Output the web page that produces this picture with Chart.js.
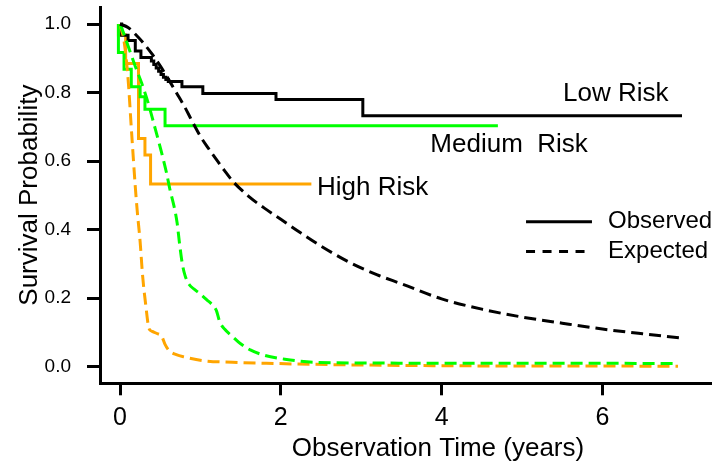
<!DOCTYPE html>
<html>
<head>
<meta charset="utf-8">
<script src="https://cdn.jsdelivr.net/npm/chart.js@4.4.1/dist/chart.umd.min.js"></script>
<style>
  html, body { margin: 0; padding: 0; background: #fff; overflow: hidden; width: 712px; height: 467px; }
  canvas { display: block; }
</style>
</head>
<body>
<canvas id="c" width="800" height="467"></canvas>
<script>
// ---- Data ----
const xTickValues = [0, 2, 4, 6];
const yTickValues = [0, 0.2, 0.4, 0.6, 0.8, 1.0];

// Observed Kaplan-Meier curves (time in years, survival probability)
const lowObsT  = [0, 0.02, 0.10, 0.19, 0.26, 0.39, 0.42, 0.45, 0.48, 0.51, 0.54, 0.57, 0.60, 0.77, 1.03, 1.94, 3.02, 6.99];
const lowObsS  = [1.0, 0.967, 0.952, 0.921, 0.902, 0.892, 0.882, 0.872, 0.862, 0.853, 0.845, 0.838, 0.832, 0.817, 0.797, 0.780, 0.732, 0.732];
const medObsT  = [-0.02, -0.02, 0.05, 0.14, 0.25, 0.31, 0.56, 4.70];
const medObsS  = [1.0, 0.917, 0.868, 0.817, 0.788, 0.751, 0.703, 0.703];
const highObsT = [-0.02, -0.02, 0.07, 0.23, 0.31, 0.38, 2.38];
const highObsS = [1.0, 0.968, 0.885, 0.666, 0.618, 0.533, 0.533];

// Expected survival curves
const lowExpT  = [0, 0.1, 0.2, 0.3, 0.4, 0.5, 0.6, 0.7, 0.8, 0.9, 1.0, 1.1, 1.2, 1.3, 1.4, 1.6, 1.8, 2.0, 2.25, 2.5, 2.85, 3.2, 3.5, 4.0, 4.5, 5.0, 5.5, 6.0, 6.5, 6.97];
const lowExpS  = [1.0, 0.99, 0.968, 0.942, 0.912, 0.878, 0.84, 0.80, 0.76, 0.715, 0.672, 0.637, 0.604, 0.572, 0.542, 0.497, 0.462, 0.43, 0.39, 0.352, 0.305, 0.268, 0.242, 0.198, 0.168, 0.145, 0.127, 0.110, 0.096, 0.084];
const medExpT  = [0, 0.05, 0.12, 0.2, 0.27, 0.35, 0.42, 0.5, 0.58, 0.62, 0.67, 0.71, 0.74, 0.775, 0.81, 0.86, 0.93, 1.0, 1.08, 1.15, 1.2, 1.24, 1.3, 1.4, 1.5, 1.62, 1.8, 2.05, 2.4, 3.0, 4.0, 5.0, 6.0, 6.94];
const medExpS  = [1.0, 0.97, 0.923, 0.87, 0.827, 0.77, 0.71, 0.64, 0.564, 0.518, 0.47, 0.42, 0.36, 0.30, 0.265, 0.24, 0.225, 0.212, 0.195, 0.18, 0.163, 0.131, 0.11, 0.088, 0.067, 0.049, 0.033, 0.022, 0.013, 0.011, 0.010, 0.010, 0.010, 0.009];
const highExpT = [0, 0.05, 0.10, 0.145, 0.19, 0.215, 0.25, 0.28, 0.32, 0.36, 0.40, 0.46, 0.52, 0.56, 0.61, 0.7, 0.81, 1.06, 1.4, 1.82, 2.4, 3.0, 4.0, 5.0, 6.0, 6.94];
const highExpS = [1.0, 0.95, 0.84, 0.68, 0.525, 0.452, 0.365, 0.268, 0.18, 0.112, 0.103, 0.097, 0.088, 0.065, 0.047, 0.035, 0.028, 0.017, 0.013, 0.010, 0.007, 0.005, 0.003, 0.002, 0.002, 0.001];

const groupLabels = ['Low Risk', 'Medium  Risk', 'High Risk'];
const legendLabels = ['Observed', 'Expected'];
const xTitle = 'Observation Time (years)';
const yTitle = 'Survival Probability';

// ---- Styles ----
const BLACK = '#000000', GREEN = '#00FF00', ORANGE = '#FFA500';
const FONT = '"Liberation Sans", Arial, Helvetica, sans-serif';
const DASH = [12, 6];

function pts(t, s) { return t.map((x, i) => ({ x: x, y: s[i] })); }

const datasets = [
  { label: 'Low Expected',  data: pts(lowExpT, lowExpS),   borderColor: BLACK,  borderDash: DASH, cubicInterpolationMode: 'monotone' },
  { label: 'Med Expected',  data: pts(medExpT, medExpS),   borderColor: GREEN,  borderDash: DASH, cubicInterpolationMode: 'monotone' },
  { label: 'High Expected', data: pts(highExpT, highExpS), borderColor: ORANGE, borderDash: DASH, cubicInterpolationMode: 'monotone' },
  { label: 'Low Observed',  data: pts(lowObsT, lowObsS),   borderColor: BLACK,  stepped: true },
  { label: 'Med Observed',  data: pts(medObsT, medObsS),   borderColor: GREEN,  stepped: true },
  { label: 'High Observed', data: pts(highObsT, highObsS), borderColor: ORANGE, stepped: true }
].map(d => Object.assign({ borderWidth: 3, pointRadius: 0, fill: false, borderCapStyle: 'butt' }, d));

// Annotation anchors in data units
const groupLabelPos = [ { x: 5.51, y: 0.776 }, { x: 3.86, y: 0.627 }, { x: 2.45, y: 0.501 } ];
const legendPos = { x0: 5.05, x1: 5.87, xText: 6.07, y: [0.423, 0.336] };

const overlay = {
  id: 'overlay',
  afterDatasetsDraw(chart) {
    const ctx = chart.ctx, xs = chart.scales.x, ys = chart.scales.y;
    ctx.save();
    ctx.fillStyle = '#000';
    ctx.font = '26px ' + FONT;
    ctx.textAlign = 'left';
    ctx.textBaseline = 'alphabetic';
    groupLabels.forEach((txt, i) => {
      ctx.fillText(txt, xs.getPixelForValue(groupLabelPos[i].x), ys.getPixelForValue(groupLabelPos[i].y));
    });
    // legend
    ctx.font = '24px ' + FONT;
    ctx.textBaseline = 'middle';
    ctx.lineWidth = 3;
    ctx.strokeStyle = '#000';
    legendLabels.forEach((txt, i) => {
      const y = ys.getPixelForValue(legendPos.y[i]);
      ctx.setLineDash(i === 0 ? [] : [9, 7.5]);
      ctx.beginPath();
      ctx.moveTo(xs.getPixelForValue(legendPos.x0), y);
      ctx.lineTo(xs.getPixelForValue(legendPos.x1), y);
      ctx.stroke();
      ctx.fillText(txt, xs.getPixelForValue(legendPos.xText), y);
    });
    ctx.restore();
  }
};

function fixX(s) { s.height = 83.7; s.paddingLeft = 0; s.paddingRight = 0; s.paddingTop = 0; s.paddingBottom = 0; }
function fixY(s) { s.width = 100; s.paddingTop = 0; s.paddingBottom = 0; s.paddingLeft = 0; s.paddingRight = 0; }

new Chart(document.getElementById('c'), {
  type: 'line',
  data: { datasets: datasets },
  options: {
    responsive: false,
    animation: false,
    events: [],
    layout: { padding: { left: 0, top: 7, right: 24, bottom: 0 } },
    plugins: { legend: { display: false }, tooltip: { enabled: false } },
    scales: {
      x: {
        type: 'linear',
        min: -0.249, max: 8.159,
        afterBuildTicks: s => { s.ticks = xTickValues.map(v => ({ value: v })); },
        afterFit: fixX,
        grid: { display: true, drawOnChartArea: false, drawTicks: true, tickLength: 12, tickWidth: 3, tickColor: '#000' },
        border: { display: true, width: 3, color: '#000' },
        ticks: { color: '#000', font: { family: FONT, size: 25 }, padding: 8, maxRotation: 0, autoSkip: false,
                 callback: v => String(v) },
        title: { display: true, text: xTitle, color: '#000', font: { family: FONT, size: 26 }, padding: { top: 0, bottom: 3 } }
      },
      y: {
        type: 'linear',
        min: -0.0484, max: 1.0497,
        afterBuildTicks: s => { s.ticks = yTickValues.map(v => ({ value: v })); },
        afterFit: fixY,
        grid: { display: true, drawOnChartArea: false, drawTicks: true, tickLength: 13, tickWidth: 3, tickColor: '#000' },
        border: { display: true, width: 3, color: '#000' },
        ticks: { color: '#000', font: { family: FONT, size: 19 }, padding: 16, autoSkip: false,
                 callback: v => Number(v).toFixed(1) },
        title: { display: true, text: yTitle, color: '#000', font: { family: FONT, size: 26 }, padding: { top: 14, bottom: 0 } }
      }
    }
  },
  plugins: [overlay]
});
</script>
</body>
</html>
